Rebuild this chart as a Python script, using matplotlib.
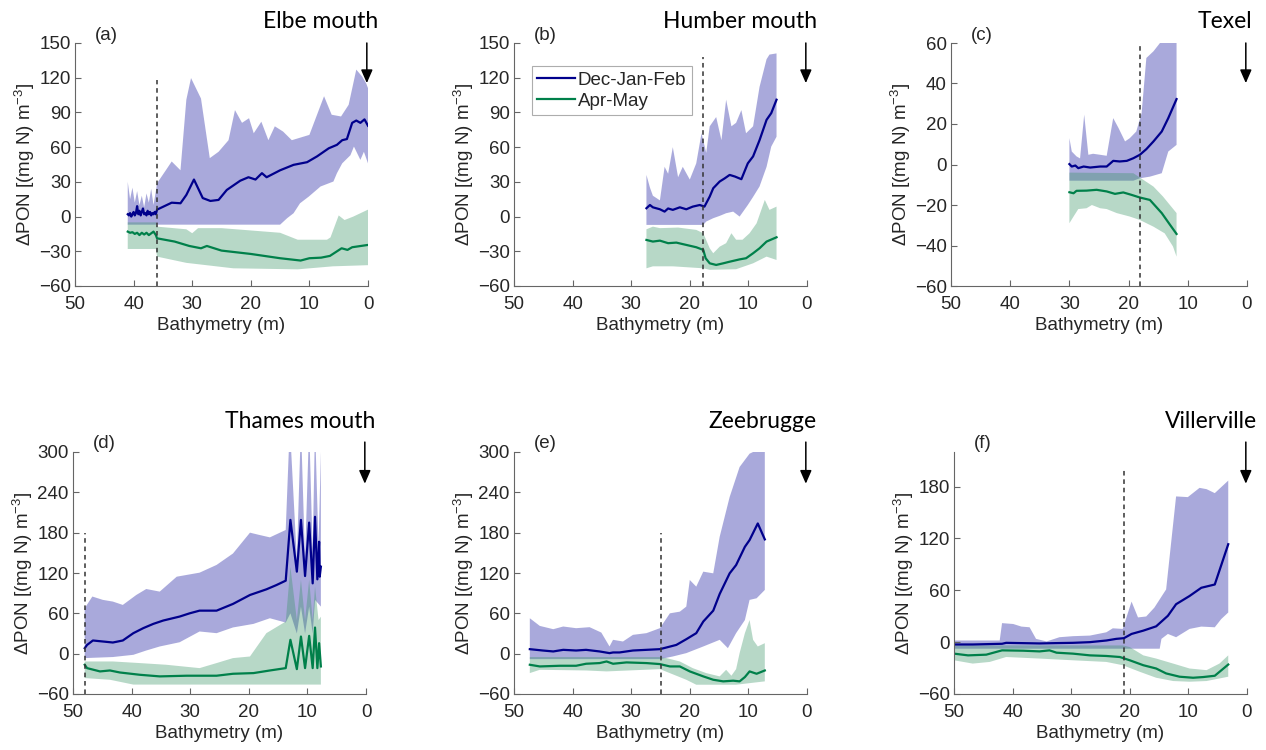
import numpy as np
import matplotlib
matplotlib.use('Agg')
import matplotlib.pyplot as plt

plt.rcParams['font.family'] = ['Liberation Sans', 'DejaVu Sans']
plt.rcParams['mathtext.default'] = 'regular'

# ---------------- (a) Elbe mouth ----------------
a_dec_x = [41.0, 40.8, 40.6, 40.4, 40.2, 40.0, 39.8, 39.6, 39.4, 39.2, 39.0, 38.8, 38.6, 38.4, 38.2,
           38.0, 37.8, 37.6, 37.4, 37.2, 37.0, 36.8, 36.6, 36.4, 36.2,
           36.0, 33.5, 32.0, 31.0, 29.7, 28.2, 26.9, 25.5, 24.1, 21.8, 20.4, 19.2, 18.1, 17.3, 15.0,
           12.7, 10.4, 8.7, 6.7, 5.3, 4.4, 3.6, 2.7, 2.0, 1.3, 0.6, 0.0]
a_dec = [2, 1, 3, 0, 2, 4, 1, 3, 9, 2, 5, 1, 4, 7, 2, 3, 1, 5, 2, 4, 1, 3, 2, 4, 2,
         6, 12, 11.5, 18.7, 32, 16, 13.5, 14.4, 23, 31, 34, 32, 37.5, 34, 40,
         44.7, 47, 52, 59, 62, 66, 67, 81, 83, 81, 84, 78.5]
a_dec_hi_x = [41.0, 40.6, 40.2, 39.8, 39.4, 39.0, 38.6, 38.2, 37.8, 37.4, 37.0, 36.6, 36.2,
              36.0, 34.5, 33.5, 32.0, 31.0, 30.2, 28.5, 27.0, 25.5, 23.8, 22.7, 21.5, 20.3, 19.5,
              18.2, 17.0, 15.9, 14.5, 13.0, 10.0, 7.5, 6.2, 4.6, 3.3, 2.0, 1.0, 0.3, 0.0]
a_dec_hi = [30, 15, 25, 12, 22, 10, 18, 8, 20, 12, 24, 10, 22,
            28.8, 40, 47.6, 40, 101, 119.7, 102, 50.5, 56, 66, 92, 81, 85, 72,
            82, 66, 78, 73.5, 66, 70.6, 104, 88, 86.5, 96.6, 127, 121, 115, 111]
a_dec_lo_x = [41.0, 36.0, 15.0, 13.8, 12.7, 11.6, 10.1, 8.1, 5.9, 5.3, 4.4, 3.0, 2.4, 1.3, 0.7, 0.0]
a_dec_lo = [-7, -7, -7, -1.4, 2.9, 11.5, 17.3, 26, 30.3, 37.5, 46, 53, 60.5, 49, 56, 46]
a_spr_x = [41.0, 40.6, 40.2, 39.8, 39.4, 39.0, 38.6, 38.2, 37.8, 37.4, 37.0, 36.6, 36.2,
           36.0, 33.0, 30.5, 28.5, 27.5, 25.0, 20.0, 15.0, 11.5, 10.0, 8.0, 6.5, 4.5, 3.5, 2.7, 0.0]
a_spr = [-13, -14, -13.5, -15, -14, -16, -14, -15.5, -14, -16, -14.5, -13, -16,
         -18.8, -21.6, -25.4, -27.4, -25.4, -29.4, -32.3, -36, -38, -36, -35.5, -34, -27.4, -28.8, -26.5, -24.5]
a_spr_hi_x = [41.0, 36.2, 36.0, 31.0, 30.0, 29.0, 25.0, 20.0, 15.0, 12.0, 7.0, 6.4, 5.0, 4.0, 2.5, 0.0]
a_spr_hi = [-5, -5, -8.7, -11, -14.4, -10, -10, -12, -14, -20, -20, -18, 1, -3, 0, 6]
a_spr_lo_x = [41.0, 36.2, 36.0, 31.0, 23.0, 12.0, 6.0, 0.0]
a_spr_lo = [-28, -28, -34.6, -40, -44.7, -45.6, -43, -42]

# ---------------- (b) Humber mouth ----------------
b_dec_x = [27.4, 26.8, 26.3, 25.1, 24.3, 23.7, 22.9, 21.7, 20.6, 19.5, 18.3, 17.5, 16.6, 16.0, 14.9,
           14.05, 13.2, 12.3, 11.2, 10.1, 9.2, 8.1, 6.9, 6.1, 5.2]
b_dec = [7.2, 10, 8, 6.3, 4.3, 7, 5.8, 8, 6.3, 8.6, 10, 8.6, 17.3, 24.5, 30.3,
         33, 36, 34.6, 32.3, 46, 52, 66, 83.6, 89.4, 101]
b_dec_hi_x = [27.4, 26.8, 26.3, 25.1, 24.3, 23.7, 22.9, 22.0, 21.2, 20.0, 18.9, 18.0, 17.2, 16.6, 15.5,
              14.6, 13.8, 12.9, 12.1, 11.2, 10.4, 9.2, 8.1, 6.9, 6.4, 5.2]
b_dec_hi = [36, 25, 18, 14, 43, 37, 60, 34, 43, 32, 46, 72, 55, 78, 86,
            66, 101, 78, 81, 92, 72, 78, 112, 136, 140, 141]
b_dec_lo_x = [27.4, 17.7, 17.2, 16.0, 14.9, 13.8, 12.6, 11.5, 10.1, 9.2, 8.1, 6.9, 6.1, 5.2]
b_dec_lo = [-7.2, -7.2, -4.3, -1.4, 0.6, 2.9, 4.3, 0, 10, 17, 26, 43, 60.5, 69]
b_spr_x = [27.4, 26.3, 25.1, 23.7, 22.3, 20.6, 18.9, 17.7, 17.3, 16.6, 15.5, 14.3, 13.2, 11.5, 10.4,
           9.2, 8.1, 6.9, 5.2]
b_spr = [-20.2, -21.6, -20.8, -23, -22.5, -24.5, -26.5, -28.8, -36, -40.4, -41.8, -40.4, -39, -37, -36,
         -31.7, -27.4, -21.6, -17.9]
b_spr_hi_x = [27.4, 26.3, 25.1, 22.0, 18.9, 17.7, 16.6, 16.0, 14.9, 13.8, 12.9, 12.1, 11.0, 9.8, 8.6,
              7.2, 6.4, 5.2]
b_spr_hi = [-11, -8.7, -10, -9.5, -11.5, -14.4, -27.4, -31.7, -26, -23, -14.4, -20, -20, -14.4, -5.8,
            14.4, 5.8, 8.6]
b_spr_lo_x = [27.4, 26.3, 22.9, 17.7, 16.6, 12.1, 9.2, 6.9, 5.2]
b_spr_lo = [-44.7, -43, -43, -44.7, -46, -45.5, -40.4, -34.6, -37.5]

# ---------------- (c) Texel ----------------
c_dec_x = [30.0, 29.6, 29.0, 28.5, 27.6, 26.5, 24.8, 23.7, 22.6, 21.5, 20.3, 19.2, 18.1, 17.0, 15.8,
           14.4, 13.3, 11.9]
c_dec = [0.2, -1, -0.5, -1.8, -1, -1.5, -1, -1, 1.8, 1.5, 1.8, 3.1, 4.8, 7.6, 11.4, 16.3, 22.9, 32.3]
c_dec_hi_x = [30.0, 29.6, 28.8, 28.2, 27.5, 26.8, 26.0, 24.8, 23.7, 22.6, 21.7, 20.6, 19.8, 18.7, 17.8,
              17.0, 15.8, 14.7, 11.9]
c_dec_hi = [13, 6.4, 4, 3, 24.6, 4.8, 5.3, 4.8, 4.3, 22.9, 18, 11.4, 13, 16.3, 25.4, 52.6, 55.9, 60, 60]
c_dec_lo_x = [30.0, 19.2, 18.1, 16.4, 14.4, 13.3, 11.9]
c_dec_lo = [-8, -8, -6.8, -6, -4.3, 6.4, 9.7]
c_spr_x = [30.0, 29.3, 28.8, 27.1, 25.4, 23.7, 22.3, 20.9, 19.5, 18.1, 16.4, 14.4, 13.0, 11.9]
c_spr = [-13.7, -14.2, -13, -12.9, -12.5, -13.3, -14.5, -13.8, -15, -16.3, -17.5, -24, -29.8, -34.3]
c_spr_hi_x = [30.0, 19.2, 17.5, 15.8, 14.2, 11.9]
c_spr_hi = [-4, -4.3, -7.6, -10.9, -15.8, -24]
c_spr_lo_x = [30.0, 29.3, 28.5, 27.1, 26.2, 24.8, 23.7, 22.0, 19.8, 18.1, 15.8, 13.9, 12.5, 11.9]
c_spr_lo = [-29, -25.7, -22, -21.6, -20, -21.6, -22, -24, -25.7, -27.4, -30.7, -34, -40.5, -45.5]

# ---------------- (d) Thames mouth ----------------
d_dec_x = [48.0, 47.6, 46.6, 44.9, 43.2, 41.5, 39.7, 38.0, 36.3, 34.6, 31.8, 30.1, 28.4, 25.5, 22.7,
           19.8, 17.0, 15.3, 13.7, 12.9, 11.8, 11.1, 10.4, 9.7, 9.1, 8.7, 8.3, 8.0, 7.9, 7.7]
d_dec = [8.2, 13, 19.6, 18.1, 16.6, 19.6, 30.5, 38, 44.3, 49.3, 55.2, 60, 64, 64, 74,
         87.3, 95.7, 102, 108.6, 199, 122, 199, 115.5, 195, 104.6, 203.6, 110.6, 166.5, 114.5, 129.4]
d_dec_hi_x = [48.0, 46.7, 44.9, 43.2, 41.5, 39.2, 37.5, 35.2, 32.3, 28.4, 25.5, 22.7, 19.8, 18.1, 16.4,
              13.7, 13.0, 11.8, 11.1, 10.4, 9.7, 9.1, 8.7, 8.1, 7.7]
d_dec_hi = [67.6, 85, 80, 77.5, 72.5, 87.3, 96.2, 92.3, 114.5, 120.5, 132, 149, 180, 176.4, 173,
            184, 340, 140, 340, 140, 340, 150, 340, 160, 300]
d_dec_lo_x = [48.0, 43.2, 39.7, 37.5, 35.2, 31.8, 28.4, 25.5, 22.7, 19.2, 16.4, 13.7, 12.9, 11.8, 11.1,
              10.4, 9.7, 9.1, 8.7, 7.7]
d_dec_lo = [-6.6, -5, -1.7, 4.7, 10.7, 17, 33, 30.5, 39, 44.3, 52.7, 46.3, 60, 30, 70,
            30, 70, 30, 80, 70]
d_spr_x = [48.0, 47.6, 45.4, 43.7, 42.0, 38.6, 35.2, 30.6, 25.5, 22.7, 19.2, 16.4, 13.7, 12.9, 11.8,
           11.1, 10.4, 9.7, 9.1, 8.7, 8.3, 8.0, 7.7]
d_spr = [-16.5, -21.5, -26.4, -25, -28, -31.4, -33.8, -32.8, -32.8, -29.9, -28.9, -25, -21.5, 20.6, -23,
         25.5, -21.5, 26.5, -21.5, 38.9, -21.5, 15.6, -19]
d_spr_hi_x = [48.0, 43.2, 38.6, 34.1, 28.4, 25.5, 22.7, 19.8, 17.0, 13.7, 12.9, 11.8, 11.1, 10.4, 9.7,
              9.1, 8.7, 8.1, 7.7]
d_spr_hi = [-11.6, -11.6, -14, -16.5, -21.5, -14, -6.6, -4.2, 30.5, 47.8, 129, 50, 110, 50, 110,
            50, 100, 50, 55]
d_spr_lo_x = [48.0, 43.7, 39.7, 35.2, 7.7]
d_spr_lo = [-36.3, -38.8, -46, -46, -46]

# ---------------- (e) Zeebrugge ----------------
e_dec_x = [47.3, 45.1, 43.3, 41.6, 39.4, 37.7, 35.4, 33.7, 33.1, 32.0, 29.7, 27.4, 25.1, 22.3, 20.6,
           18.9, 17.7, 16.0, 14.9, 13.2, 12.1, 10.6, 9.8, 8.4, 7.2]
e_dec = [6.7, 4.7, 3.3, 5.7, 4.7, 5.7, 3.3, 0.8, 1.8, 1.8, 4.7, 5.7, 6.7, 13, 21.5,
         30.5, 47.8, 64, 88.8, 119.5, 131.8, 159, 169, 193.7, 170]
e_dec_hi_x = [47.3, 45.6, 43.3, 41.6, 39.4, 37.1, 35.1, 33.7, 33.1, 31.4, 29.7, 27.4, 25.1, 23.4, 21.7,
              20.6, 20.0, 18.9, 17.7, 16.0, 14.9, 13.2, 11.5, 9.8, 9.2, 7.2]
e_dec_hi = [52.7, 41.3, 36.4, 40.4, 37.9, 39.4, 31.4, 10.7, 20.6, 18.1, 28, 30.5, 37.9, 60, 62.5,
            70, 109.6, 99.7, 122, 119.5, 173.9, 233, 277.7, 297.5, 300, 300]
e_dec_lo_x = [47.3, 25.1, 22.9, 20.6, 17.7, 14.9, 13.5, 12.1, 10.6, 9.8, 8.6, 7.2]
e_dec_lo = [-8.1, -8.1, -4.2, 0.8, 10.7, 20.6, 8.2, 30.5, 50, 80, 82.4, 94.8]
e_spr_x = [47.3, 45.6, 42.2, 39.4, 37.7, 35.4, 34.2, 33.1, 30.8, 27.4, 25.1, 23.4, 21.7, 20.0, 17.7,
           16.0, 14.3, 12.6, 11.5, 10.6, 9.8, 8.6, 7.2]
e_spr = [-16.5, -19, -18, -18, -15, -14, -11.6, -15, -13, -14, -15.5, -19, -19, -26.4, -33.8,
         -38.8, -41.2, -40.2, -41.2, -34.8, -26.4, -29.9, -25]
e_spr_hi_x = [47.3, 25.1, 24.0, 21.7, 19.5, 17.2, 14.9, 13.8, 12.9, 12.1, 11.5, 10.6, 9.8, 9.2, 8.4, 7.2]
e_spr_hi = [-5, -5, -6.6, -11.6, -21.5, -28.9, -33.8, -24, -32.8, -23, 0.8, 30.5, 50, 20.6, 10.7, 15.6]
e_spr_lo_x = [47.3, 45.6, 37.7, 34.2, 25.1, 20.6, 18.9, 12.1, 7.2]
e_spr_lo = [-28.9, -24, -25, -26.4, -23, -38.8, -46.2, -46.2, -41.2]

# ---------------- (f) Villerville ----------------
f_dec_x = [50, 46.8, 41.8, 41.1, 35.4, 32.5, 29.7, 26.8, 24.0, 22.3, 21.0, 19.7, 17.7, 15.5, 13.5,
           12.1, 9.8, 7.8, 5.5, 3.2]
f_dec = [-2.7, -2.7, -1.9, -0.8, -1.5, -1.1, -0.8, 0, 1.9, 3.8, 4.6, 9.5, 13.3, 18.3, 30.5,
         43.9, 53.4, 62.9, 66.7, 113.3]
f_dec_hi_x = [50, 42.2, 41.8, 39.9, 38.5, 37.1, 36.0, 34.2, 32.0, 29.7, 26.8, 24.0, 22.9, 21.2, 20.3,
              19.7, 18.6, 17.2, 15.8, 13.8, 12.1, 10.1, 8.1, 6.9, 5.5, 3.2]
f_dec_hi = [1.9, 1.9, 22, 21, 18, 17.2, 3.8, 0.8, 5.7, 6.9, 7.6, 11.4, 16, 15.3, 34.3,
            46.9, 28.6, 29.7, 40, 61, 168.6, 167.8, 178.5, 177, 172.4, 186.9]
f_dec_lo_x = [50, 14.9, 14.6, 13.5, 12.1, 9.8, 7.8, 5.5, 4.4, 3.2]
f_dec_lo = [-7.6, -7.6, 3.8, 9.5, 5.7, 15.3, 18, 17.2, 26.7, 34.3]
f_spr_x = [50, 47.6, 44.5, 41.8, 38.2, 35.4, 33.7, 32.5, 29.7, 26.8, 24.0, 21.7, 20.0, 17.7, 15.5,
           13.8, 11.5, 9.2, 7.5, 5.5, 3.2]
f_spr = [-13.3, -15.3, -14.5, -9.5, -9.9, -10.7, -9.5, -12.2, -13.3, -15.3, -16, -17.2, -21, -26.7, -30.5,
         -36.2, -40, -41.2, -40.4, -38.9, -25.9]
f_spr_hi_x = [50, 21.2, 20.0, 17.7, 15.5, 12.6, 9.8, 6.9, 4.7, 3.2]
f_spr_hi = [-3.8, -3.8, -5.7, -15.3, -19, -24.8, -30.5, -32.4, -24.8, -15.3]
f_spr_lo_x = [50, 46.8, 43.9, 41.1, 35.4, 29.7, 24.0, 21.2, 18.3, 15.5, 12.6, 9.8, 6.9, 3.2]
f_spr_lo = [-21, -24.8, -22.9, -17.2, -19, -21, -22.9, -26.7, -34.3, -41.2, -45, -45.8, -45, -40]

# panel settings: label, site name, y limits, y ticks, dashed line depth and its top
panel_labels = ['(a)', '(b)', '(c)', '(d)', '(e)', '(f)']
site_names = ['Elbe mouth', 'Humber mouth', 'Texel', 'Thames mouth', 'Zeebrugge', 'Villerville']
y_limits = [(-60, 150), (-60, 150), (-60, 60), (-60, 300), (-60, 300), (-60, 220)]
y_ticks = [np.arange(-60, 151, 30), np.arange(-60, 151, 30), np.arange(-60, 61, 20),
           np.arange(-60, 301, 60), np.arange(-60, 301, 60), np.arange(-60, 181, 60)]
front_depth = [36, 17.8, 18, 48, 25, 21]
front_top = [118, 138, 60, 180, 180, 200]

DEC_LINE = '#00008C'
SPR_LINE = '#00804A'
DEC_FILL = (0.33, 0.33, 0.72)
SPR_FILL = (0.22, 0.58, 0.40)
TXT = '#262626'
FS = 13.5


def band(ax, xh, yh, xl, yl, color, alpha):
    px = np.concatenate([xh, xl[::-1]])
    py = np.concatenate([yh, yl[::-1]])
    ax.fill(px, py, color=color, alpha=alpha, lw=0)


def draw_panel(ax, i, dec, spr):
    band(ax, np.array(dec[2]), np.array(dec[3]), np.array(dec[4]), np.array(dec[5]), DEC_FILL, 0.5)
    band(ax, np.array(spr[2]), np.array(spr[3]), np.array(spr[4]), np.array(spr[5]), SPR_FILL, 0.36)
    l1, = ax.plot(dec[0], dec[1], color=DEC_LINE, lw=1.6, label='Dec-Jan-Feb')
    l2, = ax.plot(spr[0], spr[1], color=SPR_LINE, lw=1.6, label='Apr-May')
    ax.plot([front_depth[i], front_depth[i]], [y_limits[i][0], front_top[i]],
            ls=(0, (3, 2.5)), color='#333333', lw=1.1)

    ax.set_xlim(50, 0)
    ax.set_ylim(*y_limits[i])
    ax.set_xticks([50, 40, 30, 20, 10, 0])
    ax.set_yticks(y_ticks[i])
    for s in ['top', 'right']:
        ax.spines[s].set_visible(False)
    for s in ['left', 'bottom']:
        ax.spines[s].set_color('#666666')
        ax.spines[s].set_linewidth(0.8)
    ax.tick_params(direction='in', length=4, width=0.8, color='#666666',
                   labelsize=FS, labelcolor=TXT, pad=3)
    ax.tick_params(axis='x', pad=7)
    ax.set_xlabel('Bathymetry (m)', fontsize=FS, color=TXT, labelpad=3)
    ax.set_ylabel(r'$\Delta$PON [(mg N) m$^{-3}$]', fontsize=FS, color=TXT, labelpad=1)

    # river mouth marker at zero depth
    if i < 3:
        y0, y1 = 1.0, 0.835
    else:
        y0, y1 = 1.041, 0.869
    ax.annotate('', xy=(0.2, y1), xytext=(0.2, y0),
                xycoords=('data', 'axes fraction'), textcoords=('data', 'axes fraction'),
                arrowprops=dict(arrowstyle='-|>,head_length=0.8,head_width=0.35', color='black',
                                lw=1.1, shrinkA=0, shrinkB=0),
                annotation_clip=False)
    return l1, l2


fig = plt.figure(figsize=(12.66, 7.5), dpi=100)
W, H = 1266.0, 750.0
boxes = [(75, 43, 293, 243), (514, 43, 293, 243), (951, 43, 296, 243),
         (73, 452, 293, 242), (514, 452, 293, 242), (954, 452, 293, 242)]
site_xy = [(378, 22), (817, 22), (1252, 22), (375, 422), (817, 422), (1257, 422)]

panels = [
    ((a_dec_x, a_dec, a_dec_hi_x, a_dec_hi, a_dec_lo_x, a_dec_lo),
     (a_spr_x, a_spr, a_spr_hi_x, a_spr_hi, a_spr_lo_x, a_spr_lo)),
    ((b_dec_x, b_dec, b_dec_hi_x, b_dec_hi, b_dec_lo_x, b_dec_lo),
     (b_spr_x, b_spr, b_spr_hi_x, b_spr_hi, b_spr_lo_x, b_spr_lo)),
    ((c_dec_x, c_dec, c_dec_hi_x, c_dec_hi, c_dec_lo_x, c_dec_lo),
     (c_spr_x, c_spr, c_spr_hi_x, c_spr_hi, c_spr_lo_x, c_spr_lo)),
    ((d_dec_x, d_dec, d_dec_hi_x, d_dec_hi, d_dec_lo_x, d_dec_lo),
     (d_spr_x, d_spr, d_spr_hi_x, d_spr_hi, d_spr_lo_x, d_spr_lo)),
    ((e_dec_x, e_dec, e_dec_hi_x, e_dec_hi, e_dec_lo_x, e_dec_lo),
     (e_spr_x, e_spr, e_spr_hi_x, e_spr_hi, e_spr_lo_x, e_spr_lo)),
    ((f_dec_x, f_dec, f_dec_hi_x, f_dec_hi, f_dec_lo_x, f_dec_lo),
     (f_spr_x, f_spr, f_spr_hi_x, f_spr_hi, f_spr_lo_x, f_spr_lo)),
]

for i, (dec, spr) in enumerate(panels):
    x, y, w, h = boxes[i]
    ax = fig.add_axes([x / W, 1 - (y + h) / H, w / W, h / H])
    lines = draw_panel(ax, i, dec, spr)
    fig.text((x + 20) / W, 1 - (y - 8) / H, panel_labels[i], fontsize=FS, color=TXT,
             ha='left', va='center')
    sx, sy = site_xy[i]
    fig.text(sx / W, 1 - sy / H, site_names[i], fontsize=16.5, family=['Lato', 'DejaVu Sans'],
             ha='right', va='center', color='black')
    if i == 1:
        leg = ax.legend(handles=lines, loc='upper left', bbox_to_anchor=(0.06, 0.905),
                        fontsize=FS, frameon=True, fancybox=False, handlelength=2.0,
                        handletextpad=0.15, borderpad=0.3, labelspacing=0.2, borderaxespad=0)
        leg.get_frame().set_edgecolor('#999999')
        leg.get_frame().set_linewidth(0.8)
        for t in leg.get_texts():
            t.set_color(TXT)

fig.savefig('out.png', dpi=100)
